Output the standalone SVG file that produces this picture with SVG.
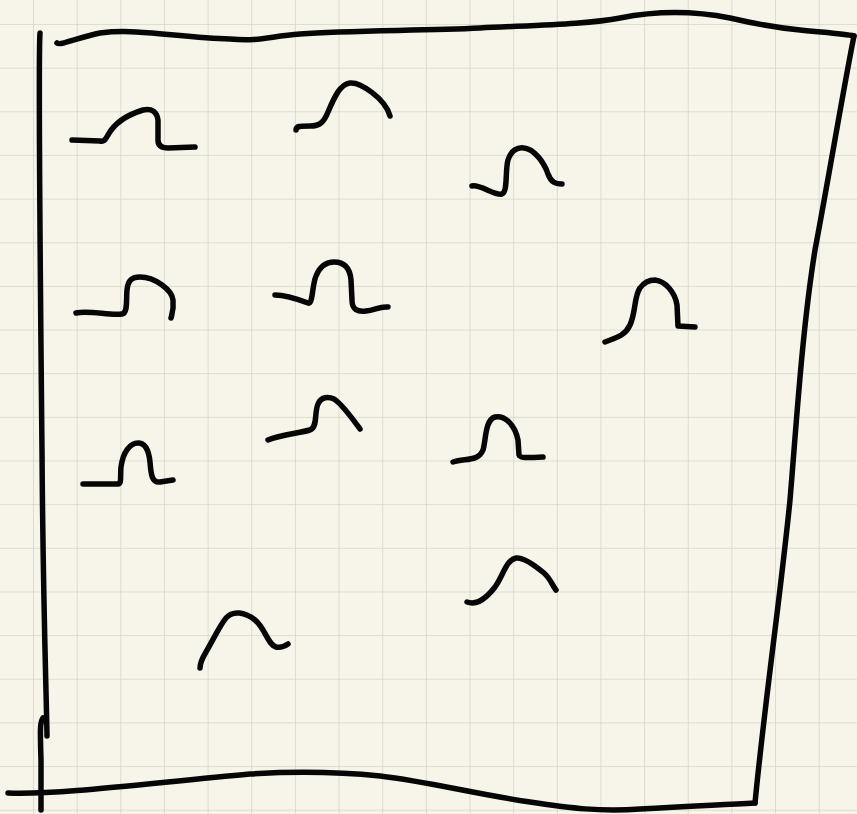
<svg xmlns="http://www.w3.org/2000/svg" width="857" height="814" viewBox="0 0 857 814">
<defs>
<pattern id="grid" x="33" y="24" width="43.65" height="43.65" patternUnits="userSpaceOnUse">
<path d="M0,0 V43.65 M0,0 H43.65" fill="none" stroke="#d5d5c8" stroke-width="1.6"/>
</pattern>
<style>
.ink{fill:none;stroke:#060606;stroke-width:5.5;stroke-linecap:round;stroke-linejoin:round}
</style>
</defs>
<rect width="857" height="814" fill="#f7f5e9"/>
<rect width="857" height="814" fill="url(#grid)"/>
<g id="frame">
<path class="ink" d="M40,33 C38,60 40,250 42,450 C43,600 46,680 47,736"/>
<path class="ink" d="M43,718 C40,722 40,728 41,760 L41,810"/>
<path class="ink" d="M57,43 C60,46 80,37 100,33 C140,28 180,38 230,39 C260,42 270,36 300,34 C350,30 420,31 480,28 C540,25 590,24 620,18 C650,12 690,10 730,18 C760,25 780,28 800,30 C830,33 845,34 854,36"/>
<path class="ink" d="M854,36 C845,80 830,170 815,250 C802,330 796,430 790,500 C780,600 765,700 755,803"/>
<path class="ink" d="M8,793 C60,795 150,783 250,774 C300,771 340,772 380,776 C430,782 470,793 530,802 C570,808 600,812 640,809 C690,806 720,805 755,803"/>
</g>
<g id="bumps">
<path class="ink" d="M72,140 L100,141 C104,142 105,140 108,135 C115,122 130,114 143,110 C152,108 157,112 158,120 L158,140 C158,146 162,148 168,148 L195,147"/>
<path class="ink" d="M296,130 C296,126 300,126 310,126 C320,126 324,122 328,112 C334,98 340,84 350,83 C360,82 385,98 390,116"/>
<path class="ink" d="M472,186 C480,184 495,196 502,194 C508,192 505,170 508,160 C511,150 518,147 524,148 C534,149 544,162 548,174 C551,182 555,184 562,184"/>
<path class="ink" d="M76,313 C90,310 110,316 122,314 C128,313 126,300 127,290 C128,280 132,277 140,277 C155,277 172,290 173,300 C174,310 172,314 171,318"/>
<path class="ink" d="M275,295 C285,295 300,300 308,303 C313,305 312,285 316,276 C320,266 326,262 334,262 C344,262 350,268 351,280 L352,300 C352,310 358,312 366,311 C375,310 380,306 388,307"/>
<path class="ink" d="M605,342 C615,338 625,336 630,325 C636,312 634,296 640,288 C645,281 650,280 655,280 C665,281 675,292 677,305 L678,326 L695,327"/>
<path class="ink" d="M83,484 L118,484 C122,484 120,475 121,467 C123,452 130,443 138,443 C146,443 149,452 150,462 C151,475 152,483 160,482 L173,480"/>
<path class="ink" d="M268,440 C280,435 300,433 310,430 C318,427 314,413 318,404 C321,397 328,396 334,399 C342,404 352,418 360,429"/>
<path class="ink" d="M453,462 C465,458 478,462 483,450 C486,440 485,420 495,417 C505,415 515,425 518,440 L519,455 C520,458 525,458 543,457"/>
<path class="ink" d="M200,668 C200,662 203,657 206,652 C212,642 220,625 226,618 C233,610 245,612 255,620 C265,628 268,645 276,647 C280,648 285,646 288,644"/>
<path class="ink" d="M467,602 C475,605 485,600 495,587 C503,576 506,560 516,558 C524,557 538,568 544,573 C550,578 552,585 556,590"/>
</g>
</svg>
